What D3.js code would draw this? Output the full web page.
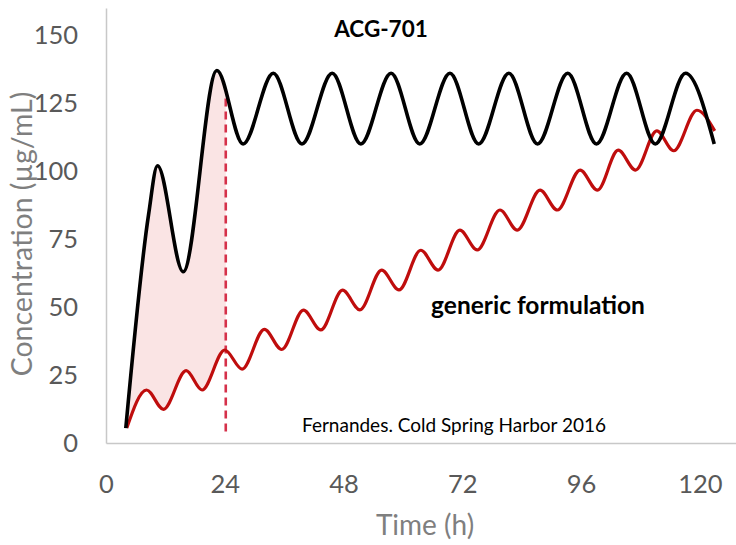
<!DOCTYPE html>
<html><head><meta charset="utf-8">
<script src="https://cdn.jsdelivr.net/npm/d3@7"></script>
<style>
html,body{margin:0;padding:0;background:#fff;}
svg{display:block;font-family:Lato,"Open Sans",sans-serif;}
</style></head>
<body>
<svg id="chart" width="736" height="545"></svg>
<script>
// ACG-701 concentration (time in h, concentration in µg/mL)
const acgTime = [4.0, 8.6, 10.4, 15.6, 22.4, 27.7, 33.8, 39.6, 45.7, 51.5, 57.6, 63.4, 69.5, 75.3, 81.4, 87.2, 93.3, 99.1, 105.2, 111.0, 117.1, 122.9];
const acgConc = [5.5, 84, 102, 63, 137, 110, 136, 110, 136, 110, 136, 110, 136, 110, 136, 110, 136, 110, 136, 110, 136, 110];

// generic formulation
const genTime = [4.2, 8.2, 11.6, 16.2, 19.4, 24.0, 27.5, 32.0, 35.5, 39.9, 43.4, 47.8, 51.3, 55.7, 59.2, 63.6, 67.1, 71.5, 75.0, 79.6, 83.1, 87.7, 91.2, 95.8, 99.3, 103.5, 107.0, 111.3, 114.7, 119.4, 123.0];
const genConc = [5.5, 19.5, 12.4, 26.6, 19.5, 34.2, 27.2, 41.8, 34.4, 48.9, 41.6, 56.2, 49.0, 63.6, 56.3, 70.9, 63.6, 78.3, 71.0, 85.7, 78.3, 93.0, 85.7, 100.4, 93.0, 107.7, 100.4, 114.8, 107.5, 122.4, 114.8];

// dashed marker at 24 h
const cutoffTime = 24.2;
const cutoffLow = 4.2;
const cutoffHigh = 127;

const xTicks = [0, 24, 48, 72, 96, 120];
const yTicks = [0, 25, 50, 75, 100, 125, 150];
const xDomain = [0, 127.3];
const yDomain = [0, 160];

const title = "ACG-701";
const seriesLabel = "generic formulation";
const sourceNote = "Fernandes. Cold Spring Harbor 2016";
const xTitle = "Time (h)";
const yTitle = "Concentration (µg/mL)";

const svg = d3.select("#chart");
const padL = 106, padR = 736, padT = 8, padB = 443;
const x = d3.scaleLinear().domain(xDomain).range([padL, padR]);
const y = d3.scaleLinear().domain(yDomain).range([padB, padT]);

const acg = acgTime.map((t, i) => ({t, c: acgConc[i]}));
const gen = genTime.map((t, i) => ({t, c: genConc[i]}));
const curve = d3.curveMonotoneX;

const defs = svg.append("defs");
defs.append("clipPath").attr("id", "underAcg")
  .append("path")
  .attr("d", d3.area().x(d => x(d.t)).y0(y(0)).y1(d => y(d.c)).curve(curve)(acg));
defs.append("clipPath").attr("id", "beforeCut")
  .append("rect")
  .attr("x", 0).attr("y", 0)
  .attr("width", x(cutoffTime)).attr("height", 545);

svg.append("g").attr("clip-path", "url(#underAcg)")
  .append("path")
  .attr("clip-path", "url(#beforeCut)")
  .attr("d", d3.area().x(d => x(d.t)).y0(y(yDomain[1])).y1(d => y(d.c)).curve(curve)(gen))
  .attr("fill", "#fae4e4");

const xAxis = svg.append("g").attr("transform", `translate(0,${padB})`)
  .call(d3.axisBottom(x).tickValues(xTicks).tickSize(0).tickPadding(32));
xAxis.select(".domain").attr("stroke", "#c8c8c8").attr("stroke-width", 1.5);
xAxis.selectAll("text").attr("font-size", 25.5).attr("fill", "#595959").attr("font-family", "Lato");

const yAxis = svg.append("g").attr("transform", `translate(${padL},0)`)
  .call(d3.axisLeft(y).tickValues(yTicks).tickSize(0).tickPadding(28));
yAxis.select(".domain").attr("stroke", "#c8c8c8").attr("stroke-width", 1.5);
yAxis.selectAll("text").attr("font-size", 25.5).attr("fill", "#595959").attr("font-family", "Lato");

svg.append("line")
  .attr("x1", x(cutoffTime)).attr("x2", x(cutoffTime))
  .attr("y1", y(cutoffLow)).attr("y2", y(cutoffHigh))
  .attr("stroke", "#d5314a").attr("stroke-width", 2.6)
  .attr("stroke-dasharray", "8,5");

const line = d3.line().x(d => x(d.t)).y(d => y(d.c)).curve(curve);
svg.append("path").attr("d", line(gen))
  .attr("fill", "none").attr("stroke", "#bf0d0d").attr("stroke-width", 3.2)
  .attr("stroke-linejoin", "round");
svg.append("path").attr("d", line(acg))
  .attr("fill", "none").attr("stroke", "#000").attr("stroke-width", 3.6)
  .attr("stroke-linejoin", "round");

svg.append("text").attr("x", 381).attr("y", 37).attr("text-anchor", "middle")
  .attr("font-size", 22.5).attr("font-weight", "bold").attr("fill", "#000").text(title);
svg.append("text").attr("x", 538).attr("y", 314).attr("text-anchor", "middle")
  .attr("font-size", 24.5).attr("font-weight", "bold").attr("fill", "#000").text(seriesLabel);
svg.append("text").attr("x", 454).attr("y", 432).attr("text-anchor", "middle")
  .attr("font-size", 19).attr("fill", "#000").text(sourceNote);
svg.append("text").attr("x", 425).attr("y", 535).attr("text-anchor", "middle")
  .attr("font-size", 28).attr("fill", "#7f7f7f").text(xTitle);
svg.append("text").attr("transform", "translate(32,234) rotate(-90)").attr("text-anchor", "middle")
  .attr("font-size", 28.5).attr("fill", "#7f7f7f").text(yTitle);
</script>
</body></html>
